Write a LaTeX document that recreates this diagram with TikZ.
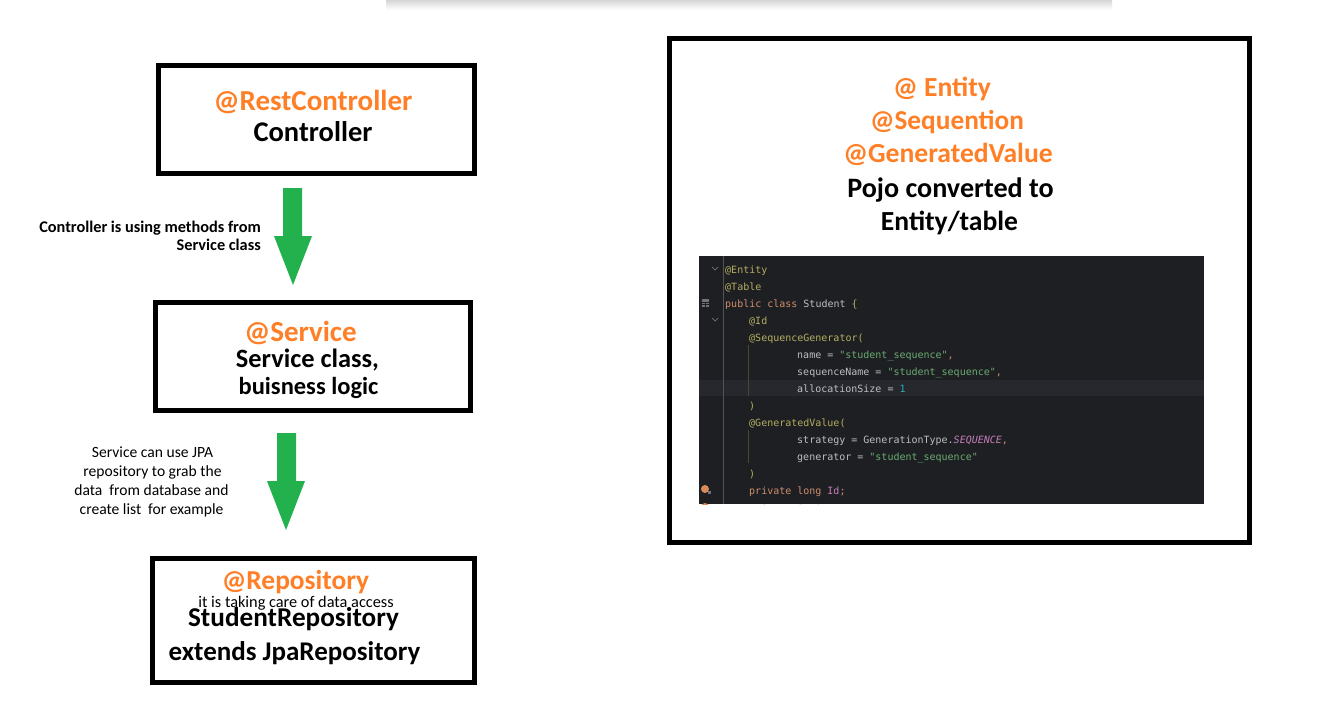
\documentclass[tikz,border=0pt]{standalone}
\usepackage{fontspec}
\setmainfont{Carlito}
\setmonofont{DejaVu Sans Mono}
\definecolor{orangeA}{HTML}{FF7F27}
\definecolor{greenA}{HTML}{22B14C}
\definecolor{codeBg}{HTML}{1E1F22}
\definecolor{codeHl}{HTML}{26282E}
\definecolor{annC}{HTML}{B3AE60}
\definecolor{kwC}{HTML}{CF8E6D}
\definecolor{txC}{HTML}{BCBEC4}
\definecolor{stC}{HTML}{6AAB73}
\definecolor{nuC}{HTML}{2AACB8}
\definecolor{puC}{HTML}{C77DBB}
\definecolor{guideC}{HTML}{4A4631}
\definecolor{gutC}{HTML}{6F737A}
\newcommand\colAn{\color{annC}}
\newcommand\colKw{\color{kwC}}
\newcommand\colTx{\color{txC}}
\newcommand\colSt{\color{stC}}
\newcommand\colNu{\color{nuC}}
\newcommand\colPu{\color{puC}}
\tikzset{
  box/.style={draw=black, line width=5pt, fill=white, inner sep=0pt},
  orangetxt/.style={text=orangeA, font=\fontsize{#1}{30}\selectfont\bfseries, inner sep=0pt, anchor=base},
  blacktxt/.style={text=black, font=\fontsize{#1}{30}\selectfont\bfseries, inner sep=0pt, anchor=base},
  smallbold/.style={text=black, font=\fontsize{16.3}{19}\selectfont\bfseries, inner sep=0pt, anchor=base east},
  smallreg/.style={text=black, font=\fontsize{#1}{19}\selectfont, inner sep=0pt, anchor=base},
  codeline/.style={font=\ttfamily\fontsize{10}{12}\selectfont, text=annC, inner sep=0pt, anchor=base west},
  greenarrow/.style={fill=greenA, draw=none}
}
\begin{document}
\begin{tikzpicture}[x=1pt,y=-1pt]
\useasboundingbox (0,0) rectangle (1329,723);
\fill[white] (0,0) rectangle (1329,723);
% top shadow
\shade[top color=black!16, bottom color=white] (386,0) rectangle (1112,10);

% boxes
\node[box, minimum width=316, minimum height=108] (ctrl) at (316.5,119.5) {};
\node[box, minimum width=315, minimum height=108] (serv) at (313,356.5) {};
\node[box, minimum width=322, minimum height=124] (repo) at (313.5,620.5) {};
\node[box, minimum width=580, minimum height=504] (ent) at (959.5,290.5) {};

% controller texts
\node[orangetxt=29] (t1) at (313,110) {@RestController};
\node[blacktxt=28.5] (t2) at (313,141) {Controller};

% service texts
\node[orangetxt=29] (t3) at (300.5,341) {@Service};
\node[blacktxt=26.4] (t4) at (307.5,367) {Service class,};
\node[blacktxt=24.5] (t5) at (308.5,394) {buisness logic};

% repository texts
\node[orangetxt=27.4] (t6) at (295.5,589) {@Repository};
\node[smallreg=16.3] (t7) at (296,607) {it is taking care of data access};
\node[blacktxt=27.2] (t8) at (293.5,626) {StudentRepository};
\node[blacktxt=27] (t9) at (294.5,660) {extends JpaRepository};

% arrows
\fill[greenarrow] (283,188) -- (302,188) -- (302,236) -- (312,236) -- (293,285) -- (274,236) -- (283,236) -- cycle;
\fill[greenarrow] (277,433) -- (296,433) -- (296,481) -- (305,481) -- (286,530) -- (267,481) -- (277,481) -- cycle;

% arrow labels
\node[smallbold] (l1) at (261,232) {Controller is using methods from};
\node[smallbold] (l2) at (261,250) {Service class};
\node[smallreg=15.6] (l3) at (152.5,457) {Service can use JPA};
\node[smallreg=15.6] (l4) at (152.5,476) {repository to grab the};
\node[smallreg=15.6] (l5) at (151.5,495) {data\hspace{7pt}from database and};
\node[smallreg=15.6] (l6) at (151.5,514) {create list\hspace{7pt}for example};

% entity texts
\node[orangetxt=27.6] (e1) at (942,96) {@ Entity};
\node[orangetxt=27.3] (e2) at (947,129) {@Sequention};
\node[orangetxt=27.6] (e3) at (948,162) {@GeneratedValue};
\node[blacktxt=28.1] (e4) at (950.5,197) {Pojo converted to};
\node[blacktxt=27.6] (e5) at (949.5,230) {Entity/table};

% code screenshot
\fill[codeBg] (699,256) rectangle (1204,504);
\fill[codeHl] (699,380) rectangle (1204,396);
\draw[codeHl!80!white, line width=0.6pt] (723,256) -- (723,504);
\draw[guideC, line width=0.8pt] (748,345) -- (748,396);
\draw[guideC, line width=0.8pt] (748,430) -- (748,463);
% gutter icons
\draw[gutC, line width=0.7pt] (712,267) -- (715,270) -- (718,267);
\draw[gutC, line width=0.7pt] (712,318) -- (715,321) -- (718,318);
\fill[gutC] (702,299) rectangle (709,307);
\draw[codeBg, line width=0.5pt] (702,302) -- (709,302) (702,304.5) -- (709,304.5) (705.5,302) -- (705.5,307);
\fill[kwC!80!orange] (705,489) circle (4);
\fill[gutC] (708,491) rectangle (711,494);
\begin{scope}
\clip (699,256) rectangle (1204,504);
\fill[kwC!80!orange] (705,507) circle (4);
\node[codeline] (c14) at (749,512) {\colKw private \colTx String \colPu name\colKw ;};
\end{scope}
\node[codeline] (c0) at (725,273) {@Entity};
\node[codeline] (c1) at (725,290) {@Table};
\node[codeline] (c2) at (725,307) {{\colKw public class} {\colTx Student} \{};
\node[codeline] (c3) at (749,324) {@Id};
\node[codeline] (c4) at (749,341) {@SequenceGenerator(};
\node[codeline] (c5) at (797,358) {{\colTx name =} {\colSt "student\_sequence"}{\colKw ,}};
\node[codeline] (c6) at (797,375) {{\colTx sequenceName =} {\colSt "student\_sequence"}{\colKw ,}};
\node[codeline] (c7) at (797,392) {{\colTx allocationSize =} {\colNu 1}};
\node[codeline] (c8) at (749,409) {)};
\node[codeline] (c9) at (749,426) {@GeneratedValue(};
\node[codeline] (c10) at (797,443) {{\colTx strategy = GenerationType.}{\colPu\itshape SEQUENCE}{\colKw ,}};
\node[codeline] (c11) at (797,460) {{\colTx generator =} {\colSt "student\_sequence"}};
\node[codeline] (c12) at (749,477) {)};
\node[codeline] (c13) at (749,494) {{\colKw private long} {\colPu Id}{\colKw ;}};
\end{tikzpicture}
\end{document}
